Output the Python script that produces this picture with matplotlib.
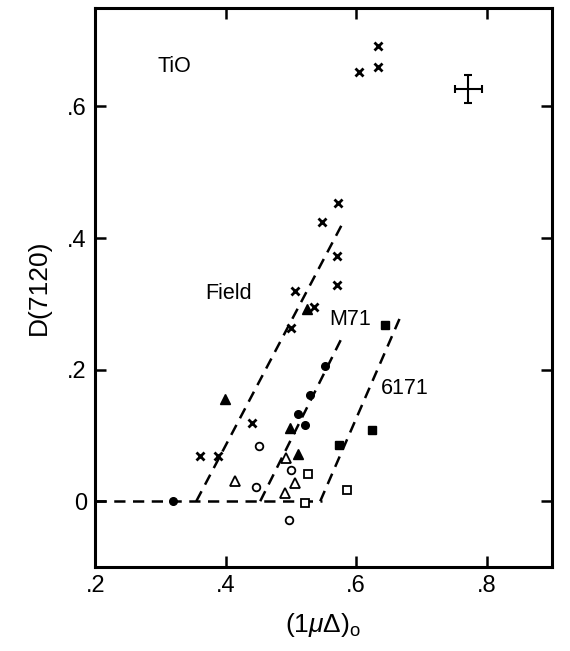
import matplotlib
matplotlib.use("Agg")
import matplotlib.pyplot as plt

plt.rcParams['font.family'] = ['Liberation Sans', 'DejaVu Sans']
plt.rcParams['mathtext.fontset'] = 'custom'
plt.rcParams['mathtext.rm'] = 'Liberation Sans'
plt.rcParams['mathtext.it'] = 'Liberation Sans:italic'

# crosses (field stars, incl. TiO group at top)
cross_x = [0.573, 0.548, 0.570, 0.570, 0.507, 0.535, 0.500, 0.441, 0.360, 0.389, 0.634, 0.634, 0.604]
cross_y = [0.454, 0.424, 0.372, 0.329, 0.320, 0.295, 0.264, 0.119, 0.068, 0.069, 0.692, 0.660, 0.653]

ftri_x = [0.525, 0.399, 0.498, 0.511]
ftri_y = [0.292, 0.155, 0.112, 0.072]

fcirc_x = [0.320, 0.553, 0.530, 0.511, 0.521]
fcirc_y = [0.000, 0.206, 0.162, 0.133, 0.116]

ocirc_x = [0.451, 0.446, 0.500, 0.497]
ocirc_y = [0.084, 0.022, 0.047, -0.028]

otri_x = [0.414, 0.492, 0.506, 0.491]
otri_y = [0.031, 0.066, 0.027, 0.012]

osq_x = [0.526, 0.586, 0.521]
osq_y = [0.042, 0.017, -0.002]

fsq_x = [0.645, 0.625, 0.574]
fsq_y = [0.268, 0.108, 0.086]

# dashed sequences
base_x = [0.2, 0.548]
base_y = [0.0, 0.0]
field_x = [0.355, 0.578]
field_y = [0.0, 0.420]
m71_x = [0.453, 0.580]
m71_y = [0.0, 0.252]
ngc_x = [0.545, 0.670]
ngc_y = [0.0, 0.285]

# typical error
err_x, err_y = 0.772, 0.627
err_dx, err_dy = 0.021, 0.021

fig = plt.figure(figsize=(5.70, 6.51), dpi=100)
ax = fig.add_axes([0.167, 0.129, 0.801, 0.859])

dash = dict(color='black', lw=1.8, dashes=(4.5, 3))
ax.plot(base_x, base_y, **dash)
ax.plot(field_x, field_y, **dash)
ax.plot(m71_x, m71_y, **dash)
ax.plot(ngc_x, ngc_y, **dash)

ax.plot(cross_x, cross_y, 'x', color='black', ms=6, mew=2.0)
ax.plot(ftri_x, ftri_y, '^', color='black', ms=6.5)
ax.plot(fcirc_x, fcirc_y, 'o', color='black', ms=5.5)
ax.plot(ocirc_x, ocirc_y, 'o', mfc='white', mec='black', ms=5.5, mew=1.3)
ax.plot(otri_x, otri_y, '^', mfc='white', mec='black', ms=7, mew=1.3)
ax.plot(osq_x, osq_y, 's', mfc='white', mec='black', ms=6, mew=1.3)
ax.plot(fsq_x, fsq_y, 's', color='black', ms=6)

ax.errorbar(err_x, err_y, xerr=err_dx, yerr=err_dy, color='black',
            lw=1.5, capsize=3, capthick=1.5)

ax.text(0.321, 0.661, 'TiO', fontsize=15.5, ha='center', va='center')
ax.text(0.405, 0.316, 'Field', fontsize=15.5, ha='center', va='center')
ax.text(0.591, 0.276, 'M71', fontsize=15.5, ha='center', va='center')
ax.text(0.675, 0.171, '6171', fontsize=15.5, ha='center', va='center')

ax.set_xlim(0.2, 0.9)
ax.set_ylim(-0.1, 0.75)
ax.set_xticks([0.2, 0.4, 0.6, 0.8])
ax.set_xticklabels(['.2', '.4', '.6', '.8'])
ax.set_yticks([0.0, 0.2, 0.4, 0.6])
ax.set_yticklabels(['0', '.2', '.4', '.6'])
ax.tick_params(direction='in', length=8, width=1.8, labelsize=17,
               top=True, right=True, pad=6)
for s in ax.spines.values():
    s.set_linewidth(2.2)

ax.set_xlabel(r'(1$\mu\Delta$)$_{\rm o}$', fontsize=19, labelpad=10)
ax.set_ylabel('D(7120)', fontsize=19, labelpad=12)

fig.savefig('out.png', dpi=100)
